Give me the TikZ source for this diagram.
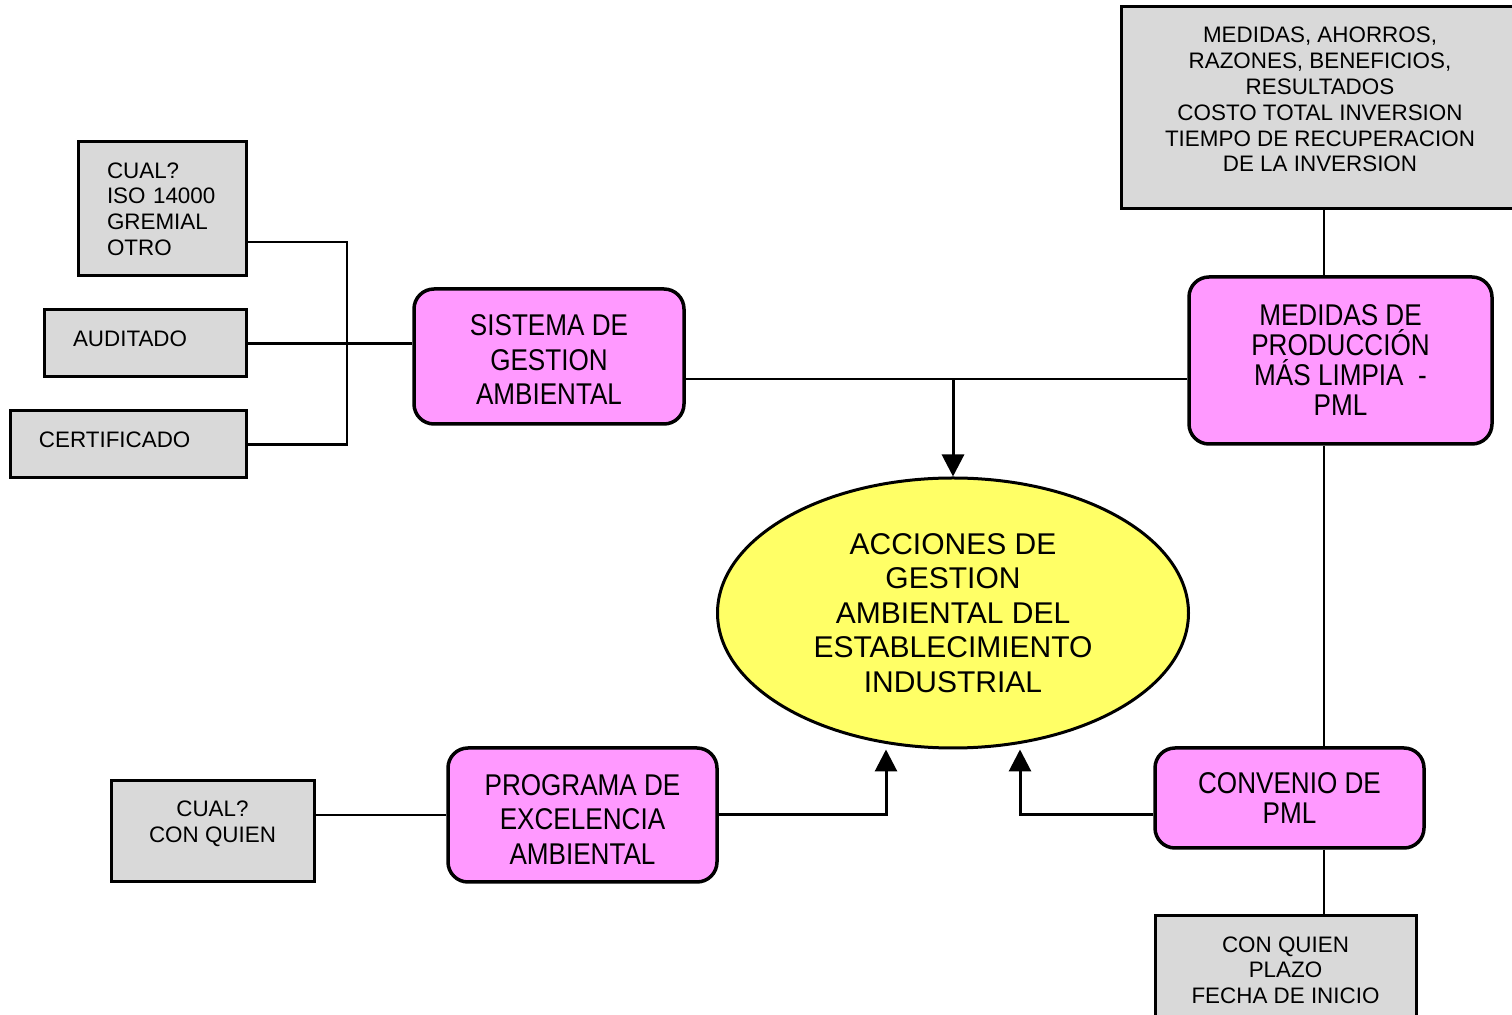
\documentclass[tikz,border=0pt]{standalone}
\usepackage{fontspec}
\setmainfont{Liberation Sans}
\newfontfamily\narrowfont[FakeStretch=0.87]{Liberation Sans}
\usetikzlibrary{positioning,calc,shapes.geometric,arrows.meta}
\definecolor{boxgrey}{RGB}{217,217,217}
\definecolor{boxpink}{RGB}{255,153,255}
\definecolor{accyellow}{RGB}{255,255,102}

\begin{document}
\begin{tikzpicture}[x=0.5pt, y=-0.5pt,
    infobox/.style={draw=black, line width=1.5pt, fill=boxgrey, inner ysep=0pt,
        font=\fontsize{11.2}{12.9}\selectfont},
    actbox/.style={draw=black, line width=1.75pt, fill=boxpink, rounded corners=10pt,
        inner sep=0pt, align=center, font=\narrowfont\fontsize{15}{17.25}\selectfont},
    link/.style={line width=1.25pt},
    feed/.style={line width=1.5pt, -{Triangle[width=11pt,length=11pt]}}]

        \clip (0,0) rectangle (1512,1015);

        %which norm
        \node[infobox, minimum width=84pt, minimum height=67pt,
            inner xsep=14.5pt, text width=55pt, align=left] (cual) at (162,209)
            {CUAL?\\ ISO 14000\\ GREMIAL\\ OTRO};

        %audited
        \node[infobox, minimum width=101pt, minimum height=33.5pt,
            inner xsep=14.5pt, text width=72pt, align=left, text depth=5pt] (audit) at (145,343.5)
            {AUDITADO};

        %certified
        \node[infobox, minimum width=118pt, minimum height=33.5pt,
            inner xsep=14.5pt, text width=89pt, align=left, text depth=5pt] (certif) at (128,444.5)
            {CERTIFICADO};

        %management system
        \node[actbox, minimum width=135pt, minimum height=67.5pt, text height=48.2pt] (sga) at (549,356.5)
            {SISTEMA DE\\ GESTION\\ AMBIENTAL};

        %results
        \node[infobox, minimum width=199pt, minimum height=101pt,
            align=center, text depth=8.5pt] (result) at (1320,108)
            {MEDIDAS, AHORROS,\\ RAZONES, BENEFICIOS,\\ RESULTADOS\\ COSTO TOTAL INVERSION\\
             TIEMPO DE RECUPERACION\\ DE LA INVERSION};

        %cleaner production
        \node[actbox, minimum width=151.5pt, minimum height=83.5pt,
            font=\narrowfont\fontsize{15}{15}\selectfont] (mpml) at (1340.5,360.5)
            {MEDIDAS DE\\ PRODUCCIÓN\\ MÁS LIMPIA~~-\\ PML};

        %actions
        \node[draw=black, line width=1.5pt, fill=accyellow, ellipse,
            minimum width=235.5pt, minimum height=135pt, inner sep=0pt,
            align=center, font=\fontsize{15}{17.25}\selectfont] (acc) at (953,613)
            {ACCIONES DE\\ GESTION\\ AMBIENTAL DEL\\ ESTABLECIMIENTO\\ INDUSTRIAL};

        %agreement
        \node[actbox, minimum width=134.5pt, minimum height=50pt,
            font=\narrowfont\fontsize{15}{15}\selectfont] (conv) at (1289.5,798)
            {CONVENIO DE\\ PML};

        %agreement details
        \node[infobox, minimum width=130.5pt, minimum height=60pt,
            align=center, text depth=6pt] (plazo) at (1285.5,976)
            {CON QUIEN\\ PLAZO\\ FECHA DE INICIO};

        %excellence program
        \node[actbox, minimum width=134.5pt, minimum height=67pt, text height=49.2pt] (prog) at (582.5,815)
            {PROGRAMA DE\\ EXCELENCIA\\ AMBIENTAL};

        %which program
        \node[infobox, minimum width=101.5pt, minimum height=50.5pt,
            align=center, text depth=9.5pt] (cualq) at (212.5,831.5)
            {CUAL?\\ CON QUIEN};

        \coordinate (spine) at (1324,0);
        \coordinate (jl) at (347,343);

        %left bracket
        \draw[link] ($(cual.east)+(0,33)$) coordinate (c1) -- (c1 -| jl)
            -- (jl |- certif.east) -- (certif.east);
        \draw[link] (audit.east) -- (audit.east -| sga.west);

        %top line and arrow
        \draw[link] ($(sga.east)+(0,22.5)$) coordinate (s1) -- (s1 -| mpml.west);
        \draw[feed] (s1 -| acc.north) -- (acc.north);

        %right spine
        \draw[link] (result.south -| spine) -- (mpml.north -| spine);
        \draw[link] (mpml.south -| spine) -- (conv.north -| spine);
        \draw[link] (conv.south -| spine) -- (plazo.north -| spine);

        %bottom
        \draw[link] (cualq.east |- prog.west) -- (prog.west);
        \draw[feed] (prog.east) -| ($(acc.south)+(-67,0)$);
        \draw[feed] ($(conv.west)+(0,17)$) -| ($(acc.south)+(67,0)$);

\end{tikzpicture}
\end{document}
